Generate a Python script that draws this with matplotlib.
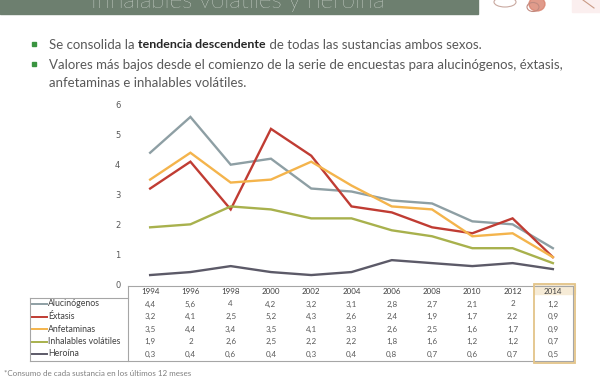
import matplotlib
matplotlib.use("Agg")
import matplotlib.pyplot as plt
import matplotlib.transforms as mtransforms
from matplotlib.patches import Rectangle, Ellipse

# ---- data -------------------------------------------------------------
years = ["1994", "1996", "1998", "2000", "2002", "2004",
         "2006", "2008", "2010", "2012", "2014"]
series_names = ["Alucinógenos", "Éxtasis", "Anfetaminas",
                "Inhalables volátiles", "Heroína"]
alucinogenos = [4.4, 5.6, 4, 4.2, 3.2, 3.1, 2.8, 2.7, 2.1, 2, 1.2]
extasis = [3.2, 4.1, 2.5, 5.2, 4.3, 2.6, 2.4, 1.9, 1.7, 2.2, 0.9]
anfetaminas = [3.5, 4.4, 3.4, 3.5, 4.1, 3.3, 2.6, 2.5, 1.6, 1.7, 0.9]
inhalables = [1.9, 2, 2.6, 2.5, 2.2, 2.2, 1.8, 1.6, 1.2, 1.2, 0.7]
heroina = [0.3, 0.4, 0.6, 0.4, 0.3, 0.4, 0.8, 0.7, 0.6, 0.7, 0.5]
yticks = [0, 1, 2, 3, 4, 5, 6]

title = "Inhalables volátiles y heroína*"
bullets = [
    ["Se consolida la ", ("tendencia descendente", "bold"),
     " de todas las sustancias ambos sexos."],
    ["Valores más bajos desde el comienzo de la serie de encuestas para alucinógenos, éxtasis,"],
    ["anfetaminas e inhalables volátiles."],
]
footnote = "*Consumo de cada sustancia en los últimos 12 meses"

colors = ["#8E9FA4", "#C03C33", "#F4B44C", "#A8B14D", "#5C5A68"]
TXT = "#595959"
FONT = "Lato"

W, H = 600, 376
fig = plt.figure(figsize=(W / 100, H / 100), dpi=100)
fig.patch.set_facecolor("white")

# overlay in pixel coordinates (y down)
over = fig.add_axes([0, 0, 1, 1])
over.set_xlim(0, W)
over.set_ylim(H, 0)
over.axis("off")

# title banner (cut at the top of the slide)
over.add_patch(Rectangle((0, -5), 478, 19, color="#6D7F6F", zorder=1))
over.text(243, 7.5, title, color="white", fontsize=17.5, ha="center",
          va="baseline", family=FONT, fontweight="light", zorder=2)
# decorative sketches top right
over.add_patch(Ellipse((505, 2), 22, 10, fill=False, ec="#C9A9A0", lw=0.8))
over.add_patch(Ellipse((537, 4), 16, 14, color="#D9826E", alpha=0.8))
over.add_patch(Ellipse((533, 7), 12, 9, fill=False, ec="#C08A80", lw=0.8))
over.add_patch(Rectangle((572, -2), 28, 14, color="#FBEFEF"))
over.plot([583, 594], [0, 8], color="#C99B86", lw=0.8)

# bullets
line_y = [45, 65, 83]
for i, (parts, y) in enumerate(zip(bullets, line_y)):
    if i < 2:
        over.add_patch(Rectangle((32, y - 3), 4, 4, color="#3A9440"))
    x = 49
    for part in parts:
        if isinstance(part, tuple):
            s, w = part
            size, col = 8.9, "#262626"
        else:
            s, w = part, "normal"
            size, col = 9.5, TXT
        t = over.text(x, y, s, fontsize=size, color=col,
                      fontweight=w, va="center", ha="left", family=FONT)
        fig.canvas.draw()
        x += t.get_window_extent().width

# ---- chart ------------------------------------------------------------
left_px, right_px = 130, 573
top_px, bot_px = 105, 284
ax = fig.add_axes([left_px / W, (H - bot_px) / H,
                   (right_px - left_px) / W, (bot_px - top_px) / H])
ax.set_facecolor("none")
xs = list(range(len(years)))
for vals, c in zip([alucinogenos, extasis, anfetaminas, inhalables, heroina], colors):
    ax.plot(xs, vals, color=c, lw=1.7, solid_joinstyle="miter")
ax.set_xlim(-0.5, len(years) - 0.5)
ax.set_ylim(0, 6)
ax.set_yticks(yticks)
ax.set_yticklabels([str(v) for v in yticks], fontsize=6, color=TXT)
ax.tick_params(axis="y", length=0, pad=7)
ax.set_xticks([])
for sp in ax.spines.values():
    sp.set_visible(False)

# ---- data table -------------------------------------------------------
tr = mtransforms.blended_transform_factory(ax.transData, over.transData)
row_y = [304, 316.5, 329, 341.5, 354]
tab_top, leg_top, tab_bot = 286, 298, 361
grid_c = "#A6A6A6"
over.plot([left_px - 2, right_px], [tab_top, tab_top], color=grid_c, lw=0.8)
over.plot([30, right_px], [tab_bot, tab_bot], color=grid_c, lw=0.8)
over.plot([30, left_px - 2], [leg_top, leg_top], color=grid_c, lw=0.8)
over.plot([30, 30], [leg_top, tab_bot], color=grid_c, lw=0.8)
over.plot([left_px - 2, left_px - 2], [tab_top, tab_bot], color=grid_c, lw=0.8)
over.plot([right_px, right_px], [tab_top, tab_bot], color=grid_c, lw=0.8)

# highlight of last year column
hx0 = ax.transData.transform((len(years) - 1.5, 0))[0] / fig.dpi * 100
over.add_patch(Rectangle((hx0 + 1, tab_top - 2), right_px - hx0 + 1, tab_bot - tab_top + 4,
                         fill=False, ec="#E3C489", lw=1.3, zorder=5))
over.add_patch(Rectangle((hx0 + 1, tab_top - 2), right_px - hx0 + 1, 10,
                         color="#F6EBD6", zorder=0))

for i, yr in enumerate(years):
    over.text(i, 292, yr, transform=tr, ha="center", va="center",
              fontsize=5.8, color="#404040", family=FONT)
all_vals = [alucinogenos, extasis, anfetaminas, inhalables, heroina]
for name, vals, c, y in zip(series_names, all_vals, colors, row_y):
    over.plot([32, 47], [y, y], color=c, lw=1.4)
    over.text(48, y, name, ha="left", va="center", fontsize=6.3,
              color="#404040", family=FONT)
    for i, v in enumerate(vals):
        s = ("%g" % v).replace(".", ",")
        over.text(i, y, s, transform=tr, ha="center", va="center",
                  fontsize=5.8, color=TXT, family=FONT)

over.text(4, 373, footnote, fontsize=5.8, color="#7F7F7F", ha="left",
          va="center", family=FONT)

fig.savefig("out.png", dpi=100)
